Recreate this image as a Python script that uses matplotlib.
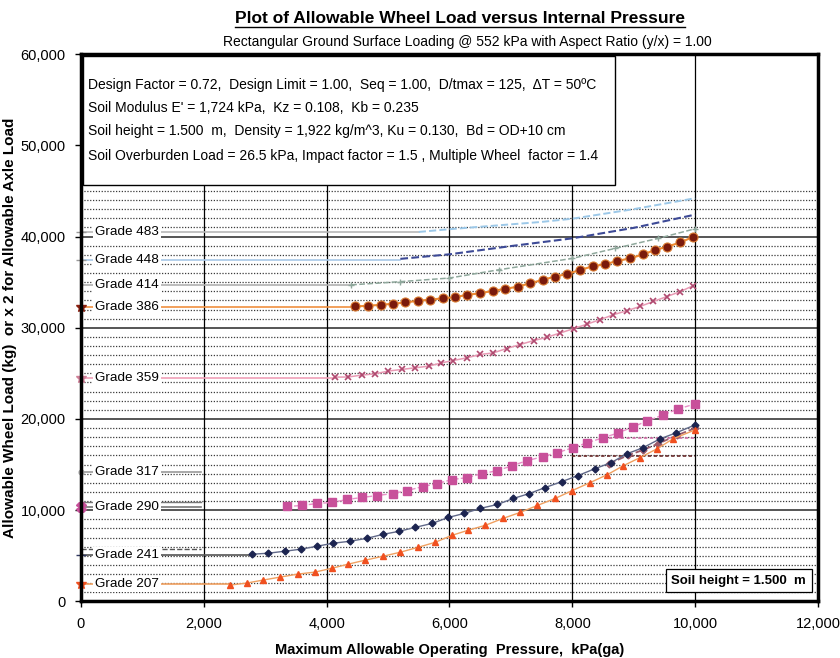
import matplotlib.pyplot as plt
from matplotlib.lines import Line2D
from matplotlib.patches import Rectangle
from matplotlib.ticker import FuncFormatter

plt.rcParams['font.family'] = ['Liberation Sans', 'DejaVu Sans']

# grade labels at the y axis and the level each one sits at
grades = ['Grade 483', 'Grade 448', 'Grade 414', 'Grade 386', 'Grade 359',
          'Grade 317', 'Grade 290', 'Grade 241', 'Grade 207']
label_y = [40450, 37450, 34650, 32300, 24500, 14150, 10300, 5050, 1900]

# curves (pressure kPa, load kg)
x483 = [5500, 6000, 7500, 8000, 9000, 10000]
y483 = [40500, 40800, 41600, 41950, 43000, 44200]

x448 = [5200, 6000, 7000, 8000, 9000, 10000]
y448 = [37550, 38050, 38950, 39800, 40950, 42400]

x414 = [4400, 5200, 6000, 6800, 8000, 8700, 9400, 10000]
y414 = [34700, 35050, 35450, 36350, 37600, 38700, 39800, 40850]

x386 = [4460, 4670, 4890, 5080, 5280, 5490, 5680, 5900, 6090, 6290, 6500, 6710, 6910, 7120,
        7310, 7520, 7720, 7920, 8130, 8340, 8530, 8730, 8940, 9150, 9350, 9540, 9760, 9970]
y386 = [32330, 32410, 32520, 32630, 32770, 32960, 33070, 33240, 33350, 33610, 33780, 34050, 34260, 34520,
        34870, 35250, 35610, 35900, 36340, 36750, 36950, 37320, 37600, 38040, 38520, 38880, 39350, 39970]

x359 = [4140, 4350, 4570, 4790, 5000, 5220, 5440, 5660, 5870, 6060, 6280, 6500, 6710, 6930,
        7150, 7370, 7580, 7800, 8020, 8240, 8450, 8670, 8890, 9100, 9320, 9540, 9760, 9970]
y359 = [24590, 24600, 24810, 24950, 25250, 25430, 25610, 25790, 26150, 26410, 26700, 27070, 27240, 27720,
        28160, 28590, 28950, 29420, 29900, 30400, 30880, 31430, 31870, 32330, 32880, 33420, 33970, 34620]

x317 = [8600, 8900, 9150, 9400, 9700, 10000]
y317 = [15100, 16000, 16600, 17300, 18200, 19000]

x290 = [3350, 3600, 3840, 4090, 4330, 4580, 4820, 5080, 5310, 5570, 5800, 6040, 6290, 6530,
        6780, 7020, 7260, 7520, 7750, 8010, 8240, 8500, 8750, 8990, 9220, 9480, 9720, 10000]
y290 = [10410, 10520, 10740, 10850, 11180, 11400, 11610, 11830, 12160, 12600, 12920, 13360, 13580, 14010,
        14340, 14880, 15430, 15870, 16300, 16850, 17390, 17940, 18480, 19140, 19790, 20450, 21100, 21650]

x241 = [2790, 3050, 3320, 3580, 3840, 4100, 4380, 4660, 4920, 5180, 5440, 5720, 5980, 6240,
        6500, 6780, 7040, 7300, 7560, 7830, 8090, 8370, 8630, 8890, 9150, 9430, 9690, 10000]
y241 = [5180, 5290, 5510, 5730, 6050, 6380, 6600, 6930, 7360, 7690, 8120, 8560, 9210, 9650,
        10200, 10630, 11290, 11830, 12490, 13140, 13790, 14560, 15210, 16190, 16850, 17830, 18480, 19360]

x207 = [2430, 2700, 2960, 3240, 3530, 3810, 4090, 4350, 4630, 4920, 5200, 5490, 5770, 6040,
        6300, 6580, 6870, 7150, 7430, 7720, 8000, 8290, 8570, 8830, 9100, 9380, 9640, 10000]
y207 = [1800, 2020, 2340, 2670, 3000, 3220, 3650, 4090, 4530, 4960, 5400, 5940, 6490, 7250,
        7800, 8340, 9100, 9760, 10520, 11290, 12160, 13030, 13900, 14880, 15760, 16740, 17830, 18810]

# two short dotted guide lines near the right end
guide_x = [[8000, 10000], [8600, 10000]]
guide_y = [15900, 17900]

notes = ["Design Factor = 0.72,  Design Limit = 1.00,  Seq = 1.00,  D/tmax = 125,  \u0394T = 50\u00baC",
         "Soil Modulus E' = 1,724 kPa,  Kz = 0.108,  Kb = 0.235",
         "Soil height = 1.500  m,  Density = 1,922 kg/m^3, Ku = 0.130,  Bd = OD+10 cm",
         "Soil Overburden Load = 26.5 kPa, Impact factor = 1.5 , Multiple Wheel  factor = 1.4"]

fig = plt.figure(figsize=(8.4, 6.58), dpi=100)
ax = fig.add_axes([0.0964, 0.0859, 0.8774, 0.832])
ax.set_xlim(0, 12000)
ax.set_ylim(0, 60000)

# grid: dotted every 1000 up to 45000, solid every 10000, verticals every 2000
for yy in range(1000, 45001, 1000):
    if yy % 10000:
        ax.axhline(yy, color='#3a3a3a', lw=0.9, ls=(0, (1, 1.3)), zorder=1)
for yy in [10000, 20000, 30000, 40000]:
    ax.axhline(yy, color='#555555', lw=1.4, zorder=1)
for xx in [2000, 4000, 6000, 8000, 10000]:
    ax.axvline(xx, color='black', lw=0.9, zorder=1)

# flat leader lines from the axis to where each curve begins
leaders = [(x483[0], 40450, '#b8b8b8'), (x448[0], 37450, '#a8c8e8'), (x414[0], 34650, '#b0b0b0'),
           (x386[0], 32300, '#f09040'), (x359[0], 24500, '#f0a0b8'), (1950, 14150, '#999999'),
           (1950, 10300, '#777777'), (x241[0], 5050, '#555555'), (x207[0], 1900, '#f0a060')]
for xe, yl, c in leaders:
    ax.plot([0, xe], [yl, yl], color=c, lw=1.2, zorder=2)
ax.plot([0, 1950], [10900, 10900], color='#777777', lw=1.0, zorder=2)
ax.plot([0, 1950], [5700, 5700], color='#555555', lw=1.0, ls='--', zorder=2)

ax.plot(x483, y483, color='#9cc8e8', lw=1.4, ls='--', zorder=3)
ax.plot(x448, y448, color='#3d4a96', lw=1.5, ls='--', zorder=3)
ax.plot(x414, y414, color='#8fa89c', lw=1.1, ls='--', marker='+', ms=4, zorder=3)
ax.plot(x386, y386, color='#f08a30', lw=1.5, marker='o', ms=6.5, mfc='#7a1a0c', mec='#d87a30', mew=0.8, zorder=4)
ax.plot(x359, y359, color='#e89ab4', lw=1.1, marker='x', ms=4, mec='#b04a70', mew=1.2, zorder=4)
ax.plot(x317, y317, color='#9a5a6a', lw=1.3, ls='--', marker='D', ms=3.5, zorder=4)
ax.plot(guide_x[0], [guide_y[0]] * 2, color='#6a2a2a', lw=1.2, ls=(0, (2, 1.5)), zorder=3)
ax.plot(guide_x[1], [guide_y[1]] * 2, color='#d070a8', lw=1.2, ls=(0, (2, 1.5)), zorder=3)
ax.plot(x290, y290, color='#e890c8', lw=1.0, ls='--', marker='s', ms=5.5, mfc='#c8509a', mec='#c8509a', zorder=4)
ax.plot(x241, y241, color='#606888', lw=1.0, marker='D', ms=3.5, mfc='#1c2450', mec='#1c2450', zorder=4)
ax.plot(x207, y207, color='#f0a060', lw=1.0, marker='^', ms=5, mfc='#f05020', mec='#f05020', zorder=4)

# markers on the y axis
axis_marks = [('_', '#999999'), ('_', '#999999'), ('', '#999999'), ('*', '#8a2010'), ('*', '#d08098'),
              ('.', '#aaaaaa'), ('X', '#c8509a'), ('_', '#303860'), ('*', '#f05020')]
for (m, c), yl in zip(axis_marks, label_y):
    if m:
        ax.plot([0], [yl], marker=m, color=c, ms=7, clip_on=False, zorder=6)

for g, yl in zip(grades, label_y):
    ax.text(230, yl, g, fontsize=9.7, va='center', ha='left', zorder=5,
            bbox=dict(facecolor='white', edgecolor='none', pad=1.5))

# notes box
ax.add_patch(Rectangle((0.003, 0.761), 0.722, 0.236, transform=ax.transAxes,
                       facecolor='white', edgecolor='black', lw=1.0, zorder=5))
for i, line in enumerate(notes):
    ax.text(0.0095, [0.943, 0.901, 0.859, 0.814][i], line, transform=ax.transAxes,
            fontsize=10, va='center', ha='left', zorder=6)

ax.text(0.984, 0.027, 'Soil height = 1.500  m', transform=ax.transAxes, fontsize=9.5,
        fontweight='bold', ha='right', va='bottom', zorder=6,
        bbox=dict(facecolor='white', edgecolor='black', lw=0.9, pad=4))

ax.set_xticks([0, 2000, 4000, 6000, 8000, 10000, 12000])
ax.set_yticks([0, 10000, 20000, 30000, 40000, 50000, 60000])
fmt = FuncFormatter(lambda v, p: '{:,.0f}'.format(v))
ax.xaxis.set_major_formatter(fmt)
ax.yaxis.set_major_formatter(fmt)
ax.tick_params(labelsize=10.5, length=4, width=1, direction='out', pad=7)
for s in ax.spines.values():
    s.set_linewidth(2.5)
    s.set_zorder(7)

ax.set_xlabel('Maximum Allowable Operating  Pressure,  kPa(ga)', fontsize=10.5, fontweight='bold')
ax.xaxis.set_label_coords(0.5, -0.075)
ax.set_ylabel('Allowable Wheel Load (kg)  or x 2 for Allowable Axle Load', fontsize=11, fontweight='bold')
ax.yaxis.set_label_coords(-0.087, 0.5)

title = fig.text(0.548, 0.972, 'Plot of Allowable Wheel Load versus Internal Pressure',
                 fontsize=12.5, fontweight='bold', ha='center', va='center')
fig.text(0.556, 0.936, 'Rectangular Ground Surface Loading @ 552 kPa with Aspect Ratio (y/x) = 1.00',
         fontsize=10, ha='center', va='center')

fig.canvas.draw()
bb = title.get_window_extent().transformed(fig.transFigure.inverted())
fig.add_artist(Line2D([bb.x0, bb.x1], [bb.y0 - 0.002, bb.y0 - 0.002], color='black', lw=1))

fig.savefig('out.png', dpi=100)
